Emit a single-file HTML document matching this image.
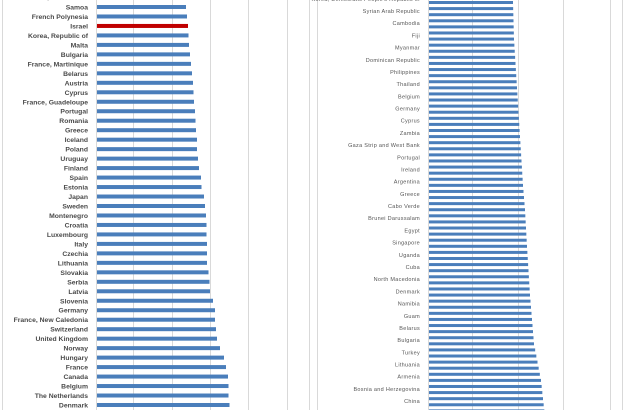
<!DOCTYPE html><html><head><meta charset="utf-8"><style>
body{margin:0;background:#fff;width:642px;height:410px;overflow:hidden}
svg{display:block}
</style></head><body>
<svg width="642" height="410" xmlns="http://www.w3.org/2000/svg" font-family="Liberation Sans, sans-serif">
<g stroke="#d9d9d9" stroke-width="1">
<line x1="2.5" y1="0" x2="2.5" y2="410"/>
<line x1="309.5" y1="0" x2="309.5" y2="410"/>
<line x1="317.5" y1="0" x2="317.5" y2="410"/>
<line x1="610.5" y1="0" x2="610.5" y2="410"/>
<line x1="622.5" y1="0" x2="622.5" y2="410"/>
<line x1="133.5" y1="0" x2="133.5" y2="410"/>
<line x1="172.5" y1="0" x2="172.5" y2="410"/>
<line x1="210.5" y1="0" x2="210.5" y2="410"/>
<line x1="248.5" y1="0" x2="248.5" y2="410"/>
<line x1="287.5" y1="0" x2="287.5" y2="410"/>
<line x1="472.5" y1="0" x2="472.5" y2="410"/>
<line x1="518.5" y1="0" x2="518.5" y2="410"/>
<line x1="563.5" y1="0" x2="563.5" y2="410"/>
</g>
<g id="L" font-size="6.8" font-weight="bold" fill="#4a4a4a" text-anchor="end"></g>
<g id="R" font-size="5.5" fill="#555" text-anchor="end" letter-spacing="0.3"></g>
</svg>
<script>
var ns="http://www.w3.org/2000/svg";
function el(p,t,a,txt){var e=document.createElementNS(ns,t);for(var k in a)e.setAttribute(k,a[k]);if(txt)e.textContent=txt;p.appendChild(e);}
var L=document.getElementById("L"),R=document.getElementById("R");
var ln=["Samoa","French Polynesia","Israel","Korea, Republic of","Malta","Bulgaria","France, Martinique","Belarus","Austria","Cyprus","France, Guadeloupe","Portugal","Romania","Greece","Iceland","Poland","Uruguay","Finland","Spain","Estonia","Japan","Sweden","Montenegro","Croatia","Luxembourg","Italy","Czechia","Lithuania","Slovakia","Serbia","Latvia","Slovenia","Germany","France, New Caledonia","Switzerland","United Kingdom","Norway","Hungary","France","Canada","Belgium","The Netherlands","Denmark"];
var lv=[186,187,188,188.5,189,190,191,192,193,193.5,194,195,195.5,196,197,197,198,199,201,201.5,204,205,206,206.5,206.5,207,207,207,208.5,209.5,210,213,215,215,216,217,220,224,226,228,228.5,228.5,229.5];
el(L,"text",{x:88,y:-0.5},"Korea, Democratic");
for(var i=0;i<ln.length;i++){var y=7+i*9.476;
el(L,"text",{x:88,y:y+2.5},ln[i]);
el(L,"rect",{x:96,y:y-2,width:lv[i]-96,height:4,fill:i==2?"#c00000":"#4a7ebb"});}
el(L,"line",{x1:96.5,y1:0,x2:96.5,y2:410,stroke:"#d9d9d9"});
var rn=["Syrian Arab Republic","Cambodia","Fiji","Myanmar","Dominican Republic","Philippines","Thailand","Belgium","Germany","Cyprus","Zambia","Gaza Strip and West Bank","Portugal","Ireland","Argentina","Greece","Cabo Verde","Brunei Darussalam","Egypt","Singapore","Uganda","Cuba","North Macedonia","Denmark","Namibia","Guam","Belarus","Bulgaria","Turkey","Lithuania","Armenia","Bosnia and Herzegovina","China"];
el(R,"text",{x:420,y:1},"Korea, Democratic People's Republic of");
for(var i=0;i<rn.length;i++)el(R,"text",{x:420,y:11+i*12.19+2},rn[i]);
var ke=[[0,513],[6,514],[30,523],[34,525],[40,527],[48,530],[56,534],[62,541],[68,545],[70,546]];
function val(j){for(var k=0;k<ke.length-1;k++){if(j<=ke[k+1][0]){var a=ke[k],b=ke[k+1];return a[1]+(b[1]-a[1])*(j-a[0])/(b[0]-a[0]);}}return 546;}
for(var j=0;j<69;j++){var y=-1+j*6.095;
el(R,"rect",{x:428,y:y+2,width:val(j)-428,height:3,fill:"#4a7ebb"});}
el(R,"line",{x1:428.5,y1:0,x2:428.5,y2:410,stroke:"#d9d9d9"});
</script>
</body></html>
